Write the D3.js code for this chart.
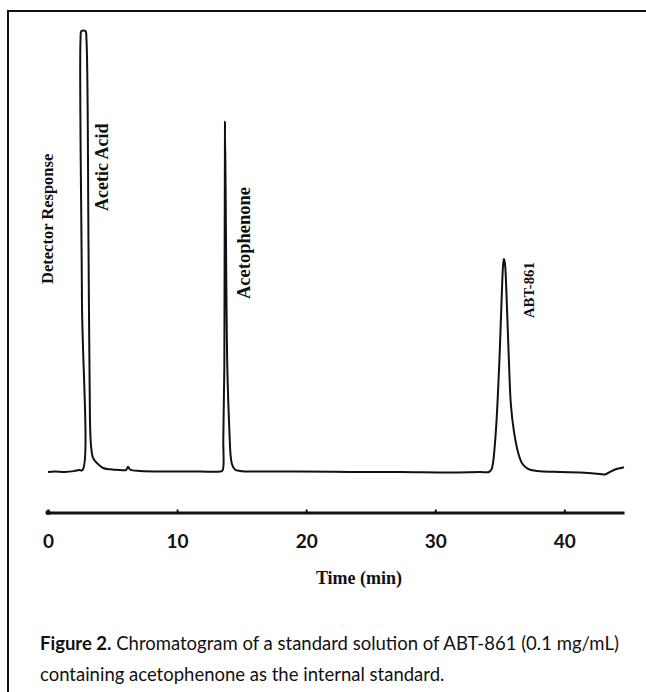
<head>
<script src="https://d3js.org/d3.v7.js"></script>
</head>
<body style="margin:0;background:#fff">
<div id="content"></div>
</body>

<style>
.peak-label { font-family: "Liberation Serif", "Times New Roman", serif; font-weight: bold; fill: #111; }
.tick text { font-family: Lato, "Open Sans", sans-serif; font-weight: bold; font-size: 19px; fill: #111; }
.caption { font-family: Lato, "Open Sans", sans-serif; font-size: 18.5px; fill: #111; }
</style>

<script>
// chromatogram trace: time (min) and detector response (arbitrary, 100 = clipped top)
const traceTime = [
  0.00, 0.54, 1.32, 2.01, 2.40, 2.67, 2.63, 2.52, 2.59, 2.90, 2.98, 3.14, 3.25, 3.33, 3.49, 3.80,
  4.26, 4.80, 5.58, 6.04, 6.20, 6.35, 7.13, 9.45, 11.77, 13.32, 13.52, 13.58, 13.66, 13.71, 13.89,
  14.08, 14.14, 14.25, 14.48, 14.87, 16.42, 19.52, 23.39, 27.27, 31.14, 33.46, 34.16, 34.35, 34.47,
  34.70, 34.96, 35.15, 35.26, 35.32, 35.40, 35.52, 35.71, 35.86, 36.10, 36.41, 36.72, 37.18, 37.88,
  39.66, 41.21, 42.76, 43.14, 43.53, 43.92, 44.62
];
const traceResponse = [
  0.0, 0.1, 0.0, 0.2, 0.45, 0.45, 39.0, 98.0, 100, 100, 98.0, 50.3, 11.8, 6.1, 3.2, 2.0,
  0.9, 0.6, 0.45, 0.45, 1.2, 0.57, 0.23, 0.1, 0.1, 0.1, 0.35, 7.3, 23.8, 79.4, 23.8,
  7.3, 3.9, 1.8, 0.57, 0.23, 0.1, 0.1, 0.0, 0.0, -0.1, 0.0, 0.0, 0.57, 2.0,
  9.5, 24.7, 40.1, 47.2, 48.3, 47.2, 40.1, 24.7, 15.2, 9.1, 4.5, 2.0, 0.7, 0.23,
  0.0, -0.1, -0.45, -0.57, 0.0, 0.57, 1.1
];

const peakNames = ["Acetic Acid", "Acetophenone", "ABT-861"];
const peakTimes = [2.75, 13.71, 35.32];

const timeTicks = [0, 10, 20, 30, 40];
const xTitle = "Time (min)";
const yTitle = "Detector Response";
const captionBold = "Figure 2.";
const captionLines = [
  " Chromatogram of a standard solution of ABT-861 (0.1 mg/mL)",
  "containing acetophenone as the internal standard."
];

const width = 646, height = 692;

const svg = d3.select("#content").append("svg")
  .attr("width", width)
  .attr("height", height);

// frame (only top and left edges fall inside the crop)
svg.append("path")
  .attr("d", "M8,692V11H646")
  .attr("fill", "none")
  .attr("stroke", "#111")
  .attr("stroke-width", 2);

const x = d3.scaleLinear().domain([0, 44.62]).range([48, 624]);
const y = d3.scaleLinear().domain([0, 100]).range([472, 31]);

const points = traceTime.map((t, i) => [t, traceResponse[i]]);

const line = d3.line()
  .x(d => x(d[0]))
  .y(d => y(d[1]))
  .curve(d3.curveCatmullRom.alpha(0.5));

svg.append("path")
  .datum(points)
  .attr("fill", "none")
  .attr("stroke", "#111")
  .attr("stroke-width", 2)
  .attr("stroke-linejoin", "round")
  .attr("d", line);

// time axis, ticks point up
const axis = svg.append("g")
  .attr("transform", "translate(0,512.5)")
  .call(d3.axisBottom(x)
    .tickValues(timeTicks)
    .tickFormat(d3.format("d"))
    .tickSizeInner(-3)
    .tickSizeOuter(0)
    .tickPadding(22));
axis.select(".domain").attr("stroke", "#111").attr("stroke-width", 3);
axis.selectAll(".tick line").attr("stroke", "#111").attr("stroke-width", 2);
axis.append("circle").attr("cx", x(0)).attr("cy", 0).attr("r", 2.5).attr("fill", "#111");

svg.append("text")
  .attr("class", "peak-label")
  .attr("x", 359).attr("y", 584)
  .attr("text-anchor", "middle")
  .style("font-size", "18px")
  .text(xTitle);

// rotated labels
function vlabel(txt, bx, by, size) {
  svg.append("text")
    .attr("class", "peak-label")
    .attr("transform", `translate(${bx},${by}) rotate(-90)`)
    .style("font-size", size + "px")
    .text(txt);
}
vlabel(yTitle, 53, 284, 16.5);

const labelLayout = [
  { dx: 25, top: 211, size: 18 },
  { dx: 25, top: 299, size: 18.5 },
  { dx: 30, top: 318, size: 14.7 }
];
peakNames.forEach((name, i) => {
  vlabel(name, x(peakTimes[i]) + labelLayout[i].dx, labelLayout[i].top, labelLayout[i].size);
});

// caption
const cap1 = svg.append("text").attr("class", "caption").attr("x", 40).attr("y", 650);
cap1.append("tspan").style("font-weight", "bold").text(captionBold);
cap1.append("tspan").text(captionLines[0]);
svg.append("text").attr("class", "caption").attr("x", 40).attr("y", 681).text(captionLines[1]);
</script>
